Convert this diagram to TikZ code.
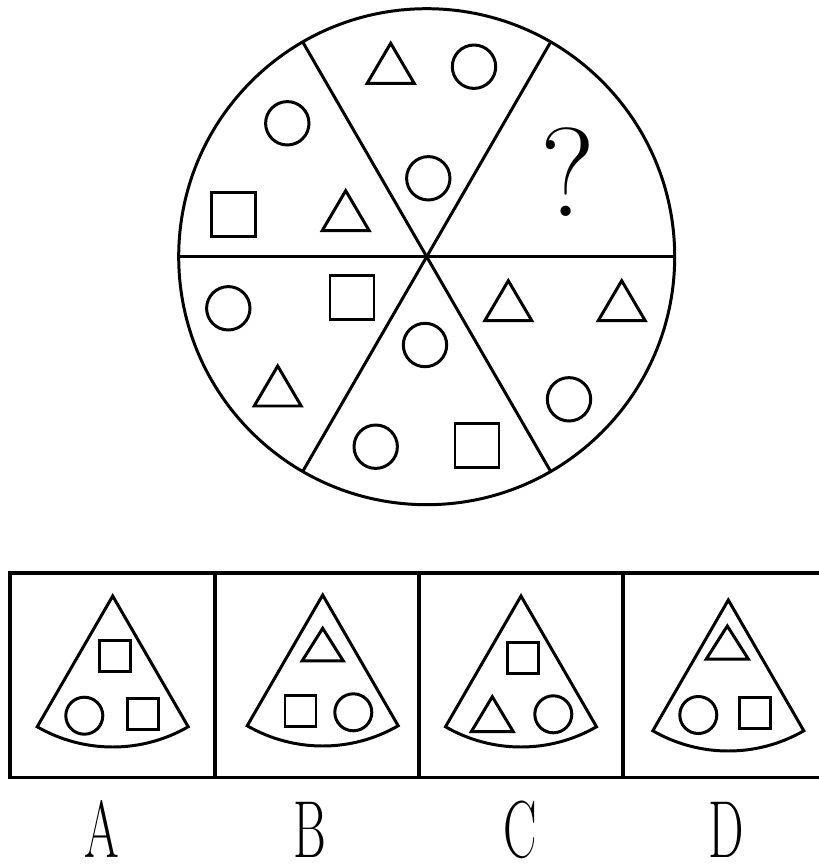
\documentclass[tikz,border=0pt]{standalone}
\usepackage{tikz}

\begin{document}
\begin{tikzpicture}[x=0.1mm,y=-0.1mm,
  fig/.style={draw,line width=0.85pt},
  frame/.style={draw,line width=1.1pt},
  optlabel/.style={font=\fontsize{23}{27}\selectfont,xscale=0.62,transform shape,inner sep=0pt,anchor=base},
]
\useasboundingbox (0,0) rectangle (819,865);

% wheel
\coordinate (hub) at (426.7,256.7);
\draw[fig] (hub) circle[radius=24.8mm];
\foreach \a in {0,60,120}
  \draw[fig] (hub) ++(\a:24.8mm) -- ++(\a+180:49.6mm);

\foreach \x/\y in {474/66.7, 428.3/178.3, 287.3/123.3, 228.3/308.3,
                   425/345, 375.7/446.7, 569/399.3}
  \draw[fig] (\x,\y) circle[radius=2.17mm];
\foreach \x/\y in {233.7/214.3, 352/297.7, 477/445.8}
  \draw[fig] (\x-22,\y-22) rectangle (\x+22,\y+22);
\foreach \x/\y in {390.7/43.3, 345.7/190.7, 277.7/366, 508.3/280.7, 621.7/280.7}
  \draw[fig] (\x,\y) -- ++(-23.5,40) -- ++(47,0) -- cycle;

\node[font=\fontsize{36}{40}\selectfont,anchor=base,inner sep=0pt] (ask) at (568,216.7) {?};

% answer cells
\draw[frame] (819,572.7) -- (10,572.7) -- (10,777.5) -- (819,777.5);
\foreach \x in {215,419.3,623.3}
  \draw[frame] (\x,572.7) -- (\x,777.5);

\foreach \x/\y in {112.7/596, 322.7/595, 521/596, 728.3/600}
  \draw[fig] (\x,\y) -- ++(240:15.1mm) arc[start angle=240,end angle=300,radius=15.1mm] -- cycle;

\foreach \x/\y in {84.3/715.7, 353.3/712.3, 553.3/714.3, 698.3/715}
  \draw[fig] (\x,\y) circle[radius=1.85mm];
\foreach \x/\y in {115/656.3, 143.3/713.8, 300.5/710.8, 522.8/657.7, 754.7/713.3}
  \draw[fig] (\x-15.5,\y-15.5) rectangle (\x+15.5,\y+15.5);
\foreach \x/\y/\w/\h in {322.7/628.3/41/32.5, 492.3/696.7/42/35, 727.3/626/42/33}
  \draw[fig] (\x,\y) -- ++(-\w/2,\h) -- ++(\w,0) -- cycle;

\node[optlabel] (labA) at (101.7,857) {A};
\node[optlabel] (labB) at (310,857) {B};
\node[optlabel] (labC) at (520,857) {C};
\node[optlabel] (labD) at (726.7,857) {D};
\end{tikzpicture}
\end{document}
